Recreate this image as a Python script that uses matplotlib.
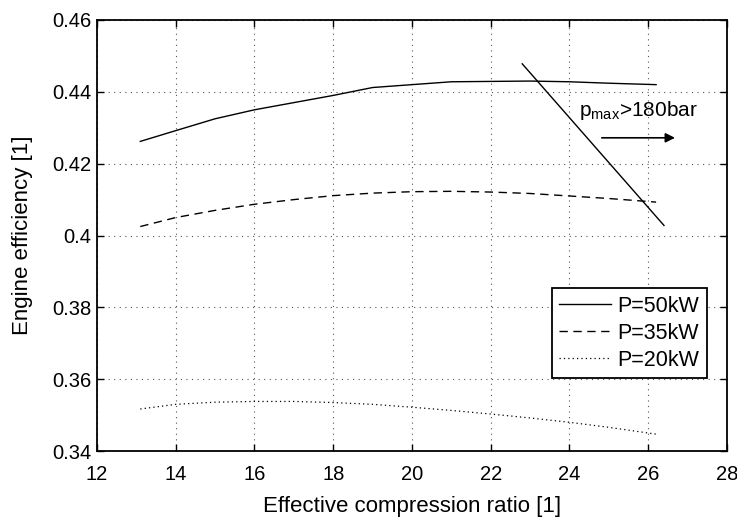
import matplotlib
matplotlib.use("Agg")
import matplotlib.pyplot as plt

plt.rcParams['font.family'] = ['Liberation Sans', 'DejaVu Sans']

# Engine efficiency vs effective compression ratio at three power levels
cr_50 = [13.1, 14.0, 15.0, 16.0, 17.0, 18.0, 19.0, 20.0, 21.0, 22.0, 23.0, 24.0, 25.0, 26.2]
eff_50 = [0.4262, 0.4292, 0.4325, 0.4350, 0.4370, 0.4390, 0.4412, 0.4420, 0.4428, 0.4429, 0.4430, 0.4428, 0.4424, 0.4420]

cr_35 = [13.1, 14.0, 15.0, 16.0, 17.0, 18.0, 19.0, 20.0, 21.0, 22.0, 23.0, 24.0, 25.0, 26.2]
eff_35 = [0.4025, 0.4050, 0.4070, 0.4087, 0.4100, 0.4111, 0.4118, 0.4122, 0.4123, 0.4121, 0.4117, 0.4110, 0.4103, 0.4093]

cr_20 = [13.1, 14.0, 15.0, 16.0, 17.0, 18.0, 19.0, 20.0, 21.0, 22.0, 23.0, 24.0, 25.0, 26.2]
eff_20 = [0.3517, 0.3530, 0.3536, 0.3538, 0.3538, 0.3535, 0.3530, 0.3522, 0.3513, 0.3503, 0.3492, 0.3480, 0.3466, 0.3447]

# Peak-pressure limit line
limit_cr = [22.8, 26.4]
limit_eff = [0.4478, 0.4028]

labels = ['P=50kW', 'P=35kW', 'P=20kW']
x_ticks = [12, 14, 16, 18, 20, 22, 24, 26, 28]
y_ticks = [0.34, 0.36, 0.38, 0.40, 0.42, 0.44, 0.46]
y_tick_labels = ['0.34', '0.36', '0.38', '0.4', '0.42', '0.44', '0.46']

fig = plt.figure(figsize=(7.37, 5.18), dpi=100)
ax = fig.add_axes([0.1316, 0.1293, 0.8548, 0.8321])

ax.plot(cr_50, eff_50, color='black', lw=1.0, ls='-', label=labels[0])
ax.plot(cr_35, eff_35, color='black', lw=1.0, ls=(0, (6, 4)), label=labels[1])
ax.plot(cr_20, eff_20, color='black', lw=0.9, ls=(0, (1, 2.5)), label=labels[2])
ax.plot(limit_cr, limit_eff, color='black', lw=1.0)

ax.text(24.25, 0.4348, r'p$_{\mathregular{max}}$>180bar', fontsize=15, va='center', ha='left')
ax.annotate('', xy=(26.75, 0.4272), xytext=(24.75, 0.4272),
            arrowprops=dict(arrowstyle='-|>', color='black', lw=1.2, mutation_scale=14))

ax.set_xlim(12, 28)
ax.set_ylim(0.34, 0.46)
ax.set_xticks(x_ticks)
ax.set_yticks(y_ticks)
ax.set_yticklabels(y_tick_labels)
ax.tick_params(direction='in', top=True, right=True, labelsize=14.5, length=5, width=1.0)
ax.tick_params(axis='x', pad=10)
ax.tick_params(axis='y', pad=4)
ax.grid(True, color='#555555', ls=(0, (1, 4)), lw=0.8)
for s in ax.spines.values():
    s.set_linewidth(1.3)

ax.set_xlabel('Effective compression ratio [1]', fontsize=16, labelpad=9)
ax.set_ylabel('Engine efficiency [1]', fontsize=16, labelpad=14)

leg = ax.legend(loc='lower right', bbox_to_anchor=(0.968, 0.169), fontsize=15.5,
                frameon=True, fancybox=False, edgecolor='black', framealpha=1,
                handlelength=2.4, handletextpad=0.3, borderpad=0.35, labelspacing=0.28,
                borderaxespad=0)
leg.get_frame().set_linewidth(1.3)

fig.savefig('out.png', dpi=100)
